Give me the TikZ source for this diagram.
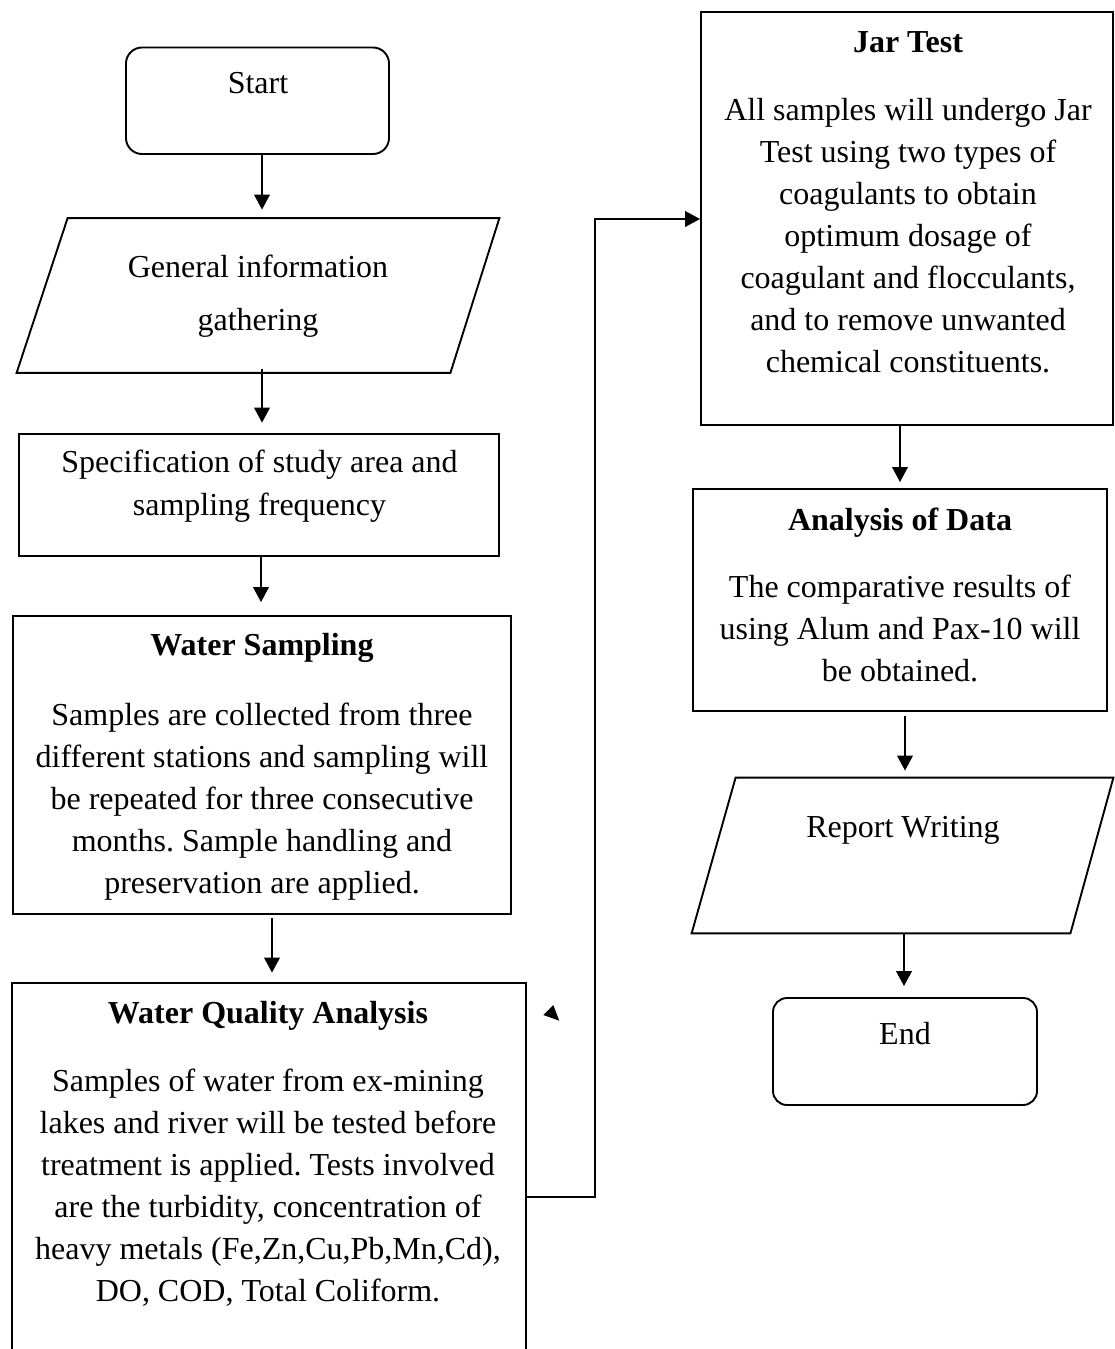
\documentclass[tikz,border=0pt]{standalone}
\usepackage{fontspec}
\setmainfont{Liberation Serif}
\usetikzlibrary{arrows.meta}
\frenchspacing
\begin{document}
\begin{tikzpicture}[x=0.5pt,y=-0.5pt,
  shapebox/.style={draw,line width=0.95pt,inner sep=0pt},
  ghost/.style={inner sep=0pt},
  txt/.style={inner sep=0pt,align=center,font=\fontsize{16}{21}\selectfont\frenchspacing},
  arr/.style={line width=0.95pt,-{Triangle[length=7.5pt,width=7.8pt]}},
  edge/.style={line width=0.95pt}]
\useasboundingbox (0,0) rectangle (1114,1349);

% ---- left column boxes
\node[shapebox,rounded corners=8pt,minimum width=131.5pt,minimum height=53.25pt] (start) at (257.5,100.75) {};
\node[ghost,minimum width=241pt,minimum height=77pt] (gen) at (258,295.5) {};
\draw[edge] ([xshift=25.5pt]gen.north west) -- (gen.north east) -- ([xshift=-24.5pt]gen.south east) -- (gen.south west) -- cycle;
\node[shapebox,minimum width=240pt,minimum height=61.2pt] (spec) at (259,494.8) {};
\node[shapebox,minimum width=249pt,minimum height=149pt] (samp) at (262,765) {};
\node[ghost,minimum width=257pt,minimum height=183pt] (qual) at (269,1166) {};
\draw[edge] ([yshift=-2pt]qual.south west) -- (qual.north west) -- (qual.north east) -- ([yshift=-2pt]qual.south east);

% ---- right column boxes
\node[shapebox,minimum width=206pt,minimum height=206.5pt] (jar) at (907,218.5) {};
\node[shapebox,minimum width=207pt,minimum height=111pt] (ana) at (900,600) {};
\node[ghost,minimum width=210.5pt,minimum height=77.5pt] (rep) at (902.5,855.5) {};
\draw[edge] ([xshift=22pt]rep.north west) -- (rep.north east) -- ([xshift=-21.5pt]rep.south east) -- (rep.south west) -- cycle;
\node[shapebox,rounded corners=7pt,minimum width=132pt,minimum height=53.5pt] (end) at (905,1051.5) {};

% ---- texts
\node[txt,anchor=base] (tstart) at (258,93) {Start};
\node[txt,anchor=north] (tgen) at (258,247.6) {\strut General information\\[5.5pt] gathering};
\node[txt,anchor=north] (tspec) at (259.5,443.1) {\strut Specification of study area and\\[0.5pt] sampling frequency};
\node[txt,anchor=north] (tsamp) at (262,625.6) {\strut\textbf{Water Sampling}\\[14pt]
  Samples are collected from three\\ different stations and sampling will\\
  be repeated for three consecutive\\ months. Sample handling and\\ preservation are applied.};
\node[txt,anchor=north] (tqual) at (268,993.6) {\strut\textbf{Water Quality Analysis}\\[13pt]
  Samples of water from ex-mining\\ lakes and river will be tested before\\
  treatment is applied. Tests involved\\ are the turbidity, concentration of\\
  heavy metals (Fe,Zn,Cu,Pb,Mn,Cd),\\ DO, COD, Total Coliform.};
\node[txt,anchor=north] (tjar) at (908,22.6) {\strut\textbf{Jar Test}\\[13pt]
  All samples will undergo Jar\\ Test using two types of\\ coagulants to obtain\\
  optimum dosage of\\ coagulant and flocculants,\\ and to remove unwanted\\ chemical constituents.};
\node[txt,anchor=north] (tana) at (900,500.6) {\strut\textbf{Analysis of Data}\\[12.5pt]
  The comparative results of\\ using Alum and Pax-10 will\\ be obtained.};
\node[txt,anchor=base] (trep) at (903,837) {Report Writing};
\node[txt,anchor=base] (tend) at (905,1044) {End};

% ---- connectors
\draw[arr,shorten >=4.25pt] ([xshift=2.25pt]start.south) -- ([xshift=2.25pt]start.south |- gen.north);
\draw[arr,shorten <=-2pt,shorten >=5pt] ([xshift=2pt]gen.south) -- ([xshift=2pt]gen.south |- spec.north);
\draw[arr,shorten >=6.5pt] ([xshift=1pt]spec.south) -- ([xshift=1pt]spec.south |- samp.north);
\draw[arr,shorten <=1.5pt,shorten >=5pt] ([xshift=5pt]samp.south) -- ([xshift=5pt]samp.south |- qual.north);
\coordinate (bend) at (595,219);
\draw[arr] ([yshift=-15.5pt]qual.east) -| (bend) -- (jar.west |- bend);
\draw[arr,shorten >=3pt] ([xshift=-3.5pt]jar.south) -- ([xshift=-3.5pt]jar.south |- ana.north);
\draw[arr,shorten <=2pt,shorten >=3.5pt] ([xshift=2.5pt]ana.south) -- ([xshift=2.5pt]ana.south |- rep.north);
\draw[arr,shorten >=5.5pt] ([xshift=0.75pt]rep.south) -- ([xshift=0.75pt]rep.south |- end.north);

% ---- stray arrow head
\fill (543.3,1015) -- (553.3,1005) -- (559.3,1020.7) -- cycle;
\end{tikzpicture}
\end{document}
